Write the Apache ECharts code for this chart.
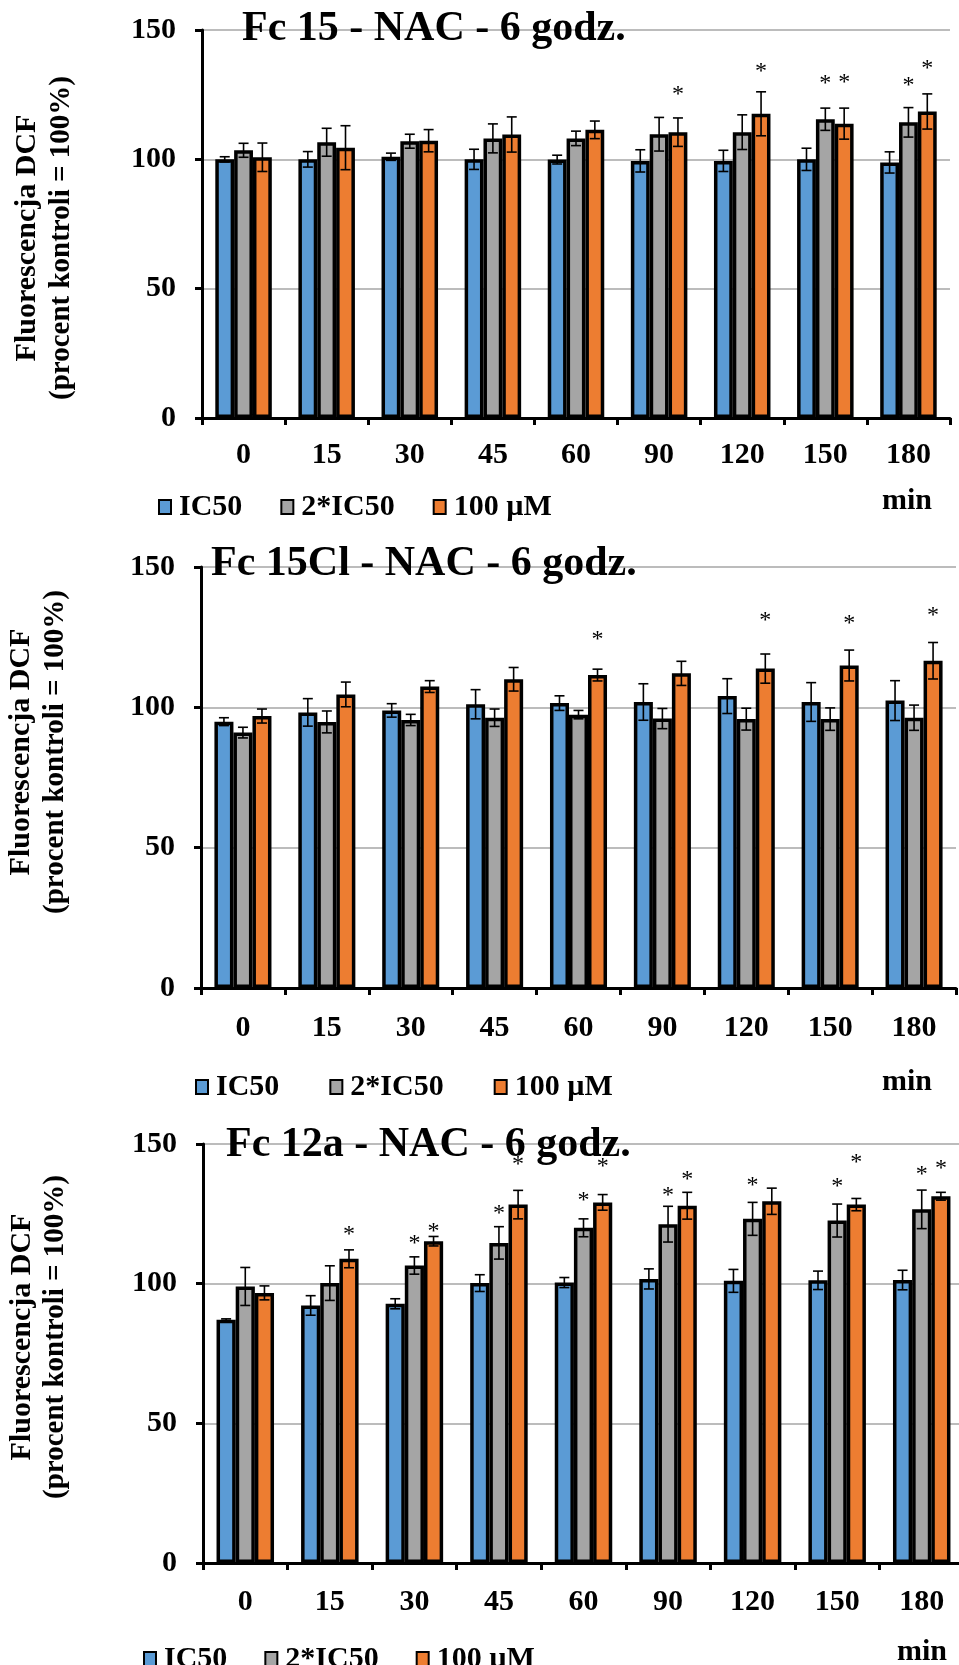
<!DOCTYPE html>
<html><head><meta charset="utf-8">
<script src="https://cdn.jsdelivr.net/npm/echarts@6/dist/echarts.min.js"></script>
<style>html,body{margin:0;padding:0;background:#fff}#c{width:959px;height:1665px}</style>
</head><body><div id="c"></div>
<script>
// ---------- data ----------
const categories = ['0', '15', '30', '45', '60', '90', '120', '150', '180'];
const seriesNames = ['IC50', '2*IC50', '100 µM'];
const yTicks = [0, 50, 100, 150];
const titles = ['Fc 15 - NAC - 6 godz.', 'Fc 15Cl - NAC - 6 godz.', 'Fc 12a - NAC - 6 godz.'];
const yNameLine1 = 'Fluorescencja DCF';
const yNameLine2 = '(procent kontroli = 100%)';
const xUnit = 'min';

// Fc 15
const fc15_ic50      = [100, 100, 101, 100, 99.9, 99.4, 99.4, 100, 98.8];
const fc15_ic50Err   = [1, 3, 1.4, 3.9, 1.7, 4.3, 4.1, 4.3, 4.1];
const fc15_2ic50     = [103.5, 106.6, 107, 108.1, 108.1, 109.7, 110.5, 115.5, 114.3];
const fc15_2ic50Err  = [2.7, 5.4, 2.7, 5.6, 2.8, 6.5, 6.7, 4.3, 5.7];
const fc15_100       = [100.8, 104.5, 107.2, 109.6, 111.4, 110.5, 117.6, 113.8, 118.5];
const fc15_100Err    = [5.5, 8.5, 4.3, 6.8, 3.4, 5.5, 8.5, 6, 6.8];
const fc15_ic50Star  = [null, null, null, null, null, null, null, null, null];
const fc15_2ic50Star = [null, null, null, null, null, null, null, 130.9, 130.2];
const fc15_100Star   = [null, null, null, null, null, 126.4, 135.4, 131.3, 136.7];

// Fc 15Cl
const fc15cl_ic50      = [94.9, 98.2, 98.9, 101.1, 101.5, 101.9, 104, 101.9, 102.4];
const fc15cl_ic50Err   = [1.4, 4.9, 2.4, 5.2, 2.6, 6.5, 6.2, 6.9, 7.1];
const fc15cl_2ic50     = [91.0, 94.8, 95.5, 96.3, 97.4, 96, 95.8, 95.8, 96.3];
const fc15cl_2ic50Err  = [1.9, 3.9, 2, 3.1, 1.5, 3.6, 3.9, 4, 4.5];
const fc15cl_100       = [96.9, 104.6, 107.4, 110, 111.5, 112.1, 113.8, 114.9, 116.6];
const fc15cl_100Err    = [2.5, 4.4, 2.1, 4.2, 2.1, 4.3, 5.2, 5.5, 6.5];
const fc15cl_ic50Star  = [null, null, null, null, null, null, null, null, null];
const fc15cl_2ic50Star = [null, null, null, null, null, null, null, null, null];
const fc15cl_100Star   = [null, null, null, null, 125.4, null, 132.3, 131.4, 134.0];

// Fc 12a
const fc12a_ic50      = [87.1, 92.2, 92.8, 100.2, 100.4, 101.7, 101, 101.2, 101.3];
const fc12a_ic50Err   = [0.3, 3.5, 1.8, 3, 1.8, 3.6, 4.1, 3.3, 3.5];
const fc12a_2ic50     = [99, 100.2, 106.5, 114.6, 120, 121.3, 123.2, 122.6, 126.6];
const fc12a_2ic50Err  = [6.8, 6.2, 3.1, 5.8, 3.2, 6.4, 5.9, 5.9, 6.9];
const fc12a_100       = [96.7, 108.9, 115.2, 128.3, 129.1, 127.9, 129.5, 128.3, 131.3];
const fc12a_100Err    = [2.5, 3.2, 1.7, 5.1, 2.8, 4.8, 4.7, 2.2, 1.4];
const fc12a_ic50Star  = [null, null, null, null, null, null, null, null, null];
const fc12a_2ic50Star = [null, null, 115.6, 126.3, 131.1, 132.8, 136.4, 136.1, 140.6];
const fc12a_100Star   = [null, 118.8, 120.2, 143.9, 143.3, 138.5, null, 144.7, 142.7];

// ---------- layout / style ----------
const FONT = '"Liberation Serif", "Times New Roman", Times, serif';
const COLORS = ['#5B9BD5', '#A5A5A5', '#ED7D31'];
const CAT_GAP = 0.32;

const panels = [
  { means: [fc15_ic50, fc15_2ic50, fc15_100], errs: [fc15_ic50Err, fc15_2ic50Err, fc15_100Err],
    stars: [fc15_ic50Star, fc15_2ic50Star, fc15_100Star],
    grid: { left: 202, top: 30, width: 748, height: 388 }, labelMargin: 22,
    title: [242, 29], legend: { left: 153, top: 485, gap: 38 }, unit: [907, 501],
    yName: { x1: 27, x2: 62, y: 238 } },
  { means: [fc15cl_ic50, fc15cl_2ic50, fc15cl_100], errs: [fc15cl_ic50Err, fc15cl_2ic50Err, fc15cl_100Err],
    stars: [fc15cl_ic50Star, fc15cl_2ic50Star, fc15cl_100Star],
    grid: { left: 201, top: 567, width: 755, height: 421 }, labelMargin: 25,
    title: [211, 564], legend: { left: 190, top: 1065, gap: 50 }, unit: [907, 1082],
    yName: { x1: 21, x2: 56, y: 752 } },
  { means: [fc12a_ic50, fc12a_2ic50, fc12a_100], errs: [fc12a_ic50Err, fc12a_2ic50Err, fc12a_100Err],
    stars: [fc12a_ic50Star, fc12a_2ic50Star, fc12a_100Star],
    grid: { left: 203, top: 1144, width: 761, height: 419 }, labelMargin: 24,
    title: [226, 1145], legend: { left: 138, top: 1637, gap: 37 }, unit: [922, 1652],
    yName: { x1: 22, x2: 56, y: 1337 } }
];

const grids = [], xAxes = [], yAxes = [], series = [], legends = [], graphics = [];

panels.forEach((p, pi) => {
  grids.push(Object.assign({ containLabel: false, outerBoundsMode: 'none' }, p.grid));
  xAxes.push({
    type: 'category', gridIndex: pi, data: categories,
    axisLine: { show: true, lineStyle: { color: '#000', width: 3 } },
    axisTick: { show: true, length: 7, lineStyle: { color: '#000', width: 3 } },
    axisLabel: { color: '#000', fontFamily: FONT, fontSize: 30, fontWeight: 'bold', margin: p.labelMargin, lineHeight: 30 },
    splitLine: { show: false }
  });
  yAxes.push({
    type: 'value', gridIndex: pi, min: yTicks[0], max: yTicks[yTicks.length - 1], interval: yTicks[1] - yTicks[0],
    axisLine: { show: true, lineStyle: { color: '#000', width: 3 } },
    axisTick: { show: true, length: 7, lineStyle: { color: '#000', width: 3 } },
    axisLabel: { color: '#000', fontFamily: FONT, fontSize: 30, fontWeight: 'bold', margin: 26 },
    splitLine: { show: true, lineStyle: { color: '#A6A6A6', width: 1.5 } }
  });
  seriesNames.forEach((name, k) => {
    series.push({
      type: 'bar', name: name, xAxisIndex: pi, yAxisIndex: pi,
      data: p.means[k], barGap: '0%', barCategoryGap: (CAT_GAP * 100) + '%',
      itemStyle: { color: COLORS[k], borderColor: '#000', borderWidth: 3.5 },
      emphasis: { disabled: true }, z: 2
    });
  });
  seriesNames.forEach((name, k) => {
    const data = categories.map((c, i) => [i, p.means[k][i], p.errs[k][i], p.stars[k][i] == null ? -1 : p.stars[k][i]]);
    series.push({
      type: 'custom', name: name + ' err', xAxisIndex: pi, yAxisIndex: pi, z: 5,
      encode: { x: 0, y: 1 }, data: data, silent: true,
      renderItem: function (params, api) {
        const i = api.value(0), m = api.value(1), e = api.value(2), s = api.value(3);
        const band = api.size([1, 0])[0];
        const bw = band * (1 - CAT_GAP) / 3;
        const cx = api.coord([i, m])[0] + (k - 1) * bw;
        const yt = api.coord([i, m + e])[1];
        const yb = api.coord([i, m - e])[1];
        const cap = 5;
        const ls = { stroke: '#000', lineWidth: 1.6 };
        const children = [
          { type: 'line', shape: { x1: cx, y1: yt, x2: cx, y2: yb }, style: ls },
          { type: 'line', shape: { x1: cx - cap, y1: yt, x2: cx + cap, y2: yt }, style: ls },
          { type: 'line', shape: { x1: cx - cap, y1: yb, x2: cx + cap, y2: yb }, style: ls }
        ];
        if (s > 0) {
          children.push({ type: 'text', style: { text: '*', x: cx, y: api.coord([i, s])[1] + 4,
            align: 'center', verticalAlign: 'middle', fontFamily: FONT, fontSize: 24, fill: '#000' } });
        }
        return { type: 'group', children: children };
      }
    });
  });
  legends.push({
    data: seriesNames, left: p.legend.left, top: p.legend.top, orient: 'horizontal',
    itemGap: p.legend.gap, itemWidth: 12, itemHeight: 14, icon: 'rect', selectedMode: false,
    itemStyle: { borderColor: '#000', borderWidth: 2 },
    textStyle: { color: '#000', fontFamily: FONT, fontSize: 30, fontWeight: 'bold', lineHeight: 34, padding: [0, 0, 0, 3] }
  });
  graphics.push({ type: 'text', x: p.title[0], y: p.title[1], z: 100,
    style: { text: titles[pi], fontFamily: FONT, fontSize: 42, fontWeight: 'bold', fill: '#000', align: 'left', verticalAlign: 'middle' } });
  graphics.push({ type: 'text', x: p.unit[0], y: p.unit[1], z: 100,
    style: { text: xUnit, fontFamily: FONT, fontSize: 30, fontWeight: 'bold', fill: '#000', align: 'center', verticalAlign: 'middle' } });
  graphics.push({ type: 'text', x: p.yName.x1, y: p.yName.y, rotation: Math.PI / 2, z: 100,
    style: { text: yNameLine1, fontFamily: FONT, fontSize: 30, fontWeight: 'bold', fill: '#000', align: 'center', verticalAlign: 'middle' } });
  graphics.push({ type: 'text', x: p.yName.x2, y: p.yName.y, rotation: Math.PI / 2, z: 100,
    style: { text: yNameLine2, fontFamily: FONT, fontSize: 29, fontWeight: 'bold', fill: '#000', align: 'center', verticalAlign: 'middle' } });
});

const chart = echarts.init(document.getElementById('c'), null, { renderer: 'canvas' });
chart.setOption({
  backgroundColor: '#fff', animation: false,
  grid: grids, xAxis: xAxes, yAxis: yAxes, series: series, legend: legends, graphic: graphics
});
</script></body></html>
